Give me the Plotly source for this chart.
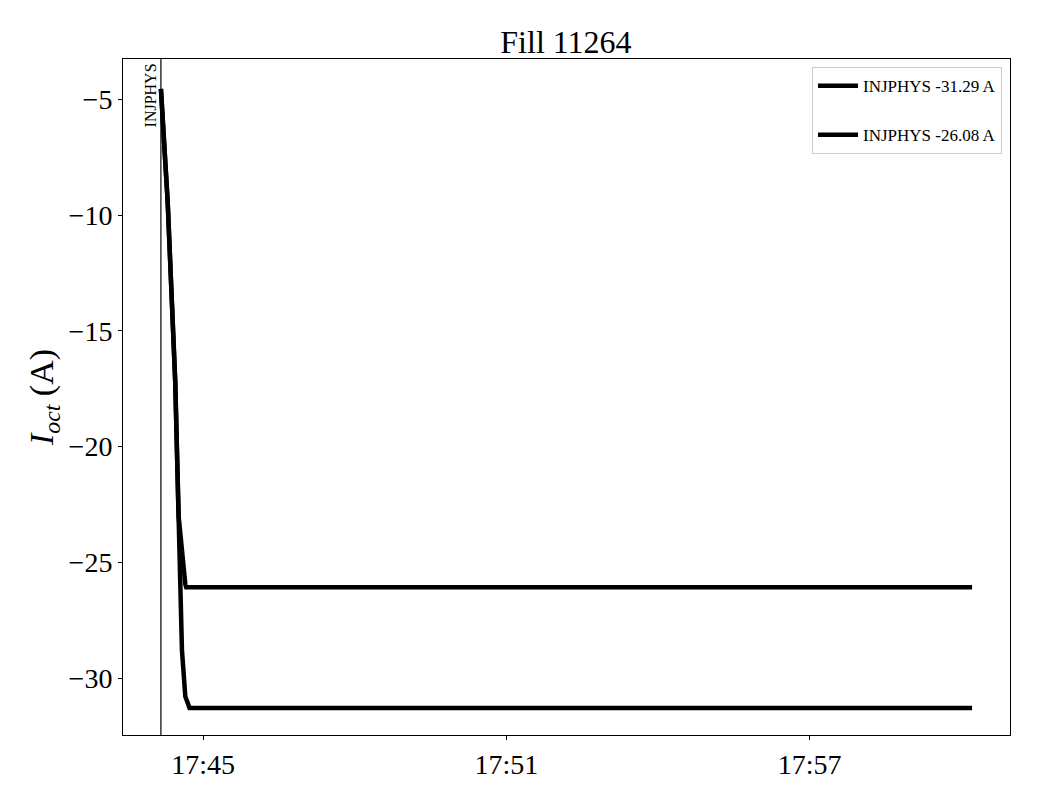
import plotly.graph_objects as go

DAY = "2025-10-01 "

# Series 1: INJPHYS -31.29 A
t1 = ["17:44:10", "17:44:18", "17:44:27", "17:44:31", "17:44:32", "17:44:35",
      "17:44:39", "17:44:42", "17:44:44", "18:00:13"]
v1 = [-4.55, -9.4, -17.2, -23.0, -25.9, -28.8, -30.8, -31.2, -31.29, -31.29]

# Series 2: INJPHYS -26.08 A
t2 = ["17:44:10", "17:44:18", "17:44:27", "17:44:31", "17:44:39", "17:44:40", "18:00:13"]
v2 = [-4.55, -9.4, -17.2, -23.0, -25.95, -26.08, -26.08]

names = ["INJPHYS -31.29 A", "INJPHYS -26.08 A"]
marker_time = "17:44:10"
marker_label = "INJPHYS"

xticks = ["17:45", "17:51", "17:57"]
yticks = [-5, -10, -15, -20, -25, -30]

FONT = "Liberation Serif"

fig = go.Figure()
for i, (t, v) in enumerate([(t1, v1), (t2, v2)]):
    fig.add_trace(go.Scatter(
        x=[DAY + s for s in t], y=v, mode="lines", name=names[i],
        legendgroup=f"g{i}",
        line=dict(color="black", width=4.5),
    ))

fig.add_shape(type="line", xref="x", yref="paper",
              x0=DAY + marker_time, x1=DAY + marker_time, y0=0, y1=1,
              line=dict(color="black", width=1.2))
fig.add_annotation(x=DAY + marker_time, xref="x", y=0.997, yref="paper",
                   text=marker_label, textangle=-90, showarrow=False,
                   xanchor="right", yanchor="top", xshift=0,
                   font=dict(family=FONT, size=16, color="black"))

fig.update_layout(
    width=1040, height=800,
    paper_bgcolor="white", plot_bgcolor="white",
    margin=dict(l=115, r=38, t=51, b=73),
    title=dict(text="Fill 11264", x=0.5365, xanchor="center", y=0.9575, yanchor="middle",
               font=dict(family=FONT, size=32, color="black")),
    font=dict(family=FONT, color="black"),
    legend=dict(x=0.991, xanchor="right", y=0.988, yanchor="top",
                bgcolor="white", bordercolor="#cccccc", borderwidth=1,
                font=dict(family=FONT, size=17, color="black"),
                tracegroupgap=24, itemwidth=40),
    xaxis=dict(
        type="date",
        range=[DAY + "17:43:25", DAY + "18:00:58"],
        tickvals=[DAY + s for s in xticks], ticktext=xticks,
        showgrid=False, zeroline=False,
        showline=True, linecolor="black", linewidth=1, mirror=True,
        ticks="outside", ticklen=4, tickcolor="black",
        tickfont=dict(family=FONT, size=28, color="black"),
    ),
    yaxis=dict(
        range=[-32.46, -3.26],
        tickvals=yticks, ticktext=["\u2212" + str(abs(y)) for y in yticks],
        showgrid=False, zeroline=False,
        showline=True, linecolor="black", linewidth=1, mirror=True,
        ticks="outside", ticklen=4, tickcolor="black",
        tickfont=dict(family=FONT, size=28, color="black"),
        title=dict(text="<i>I</i><sub><i>oct</i></sub> (A)",
                   font=dict(family=FONT, size=34, color="black"), standoff=4),
    ),
)

fig.write_html("out.html")
